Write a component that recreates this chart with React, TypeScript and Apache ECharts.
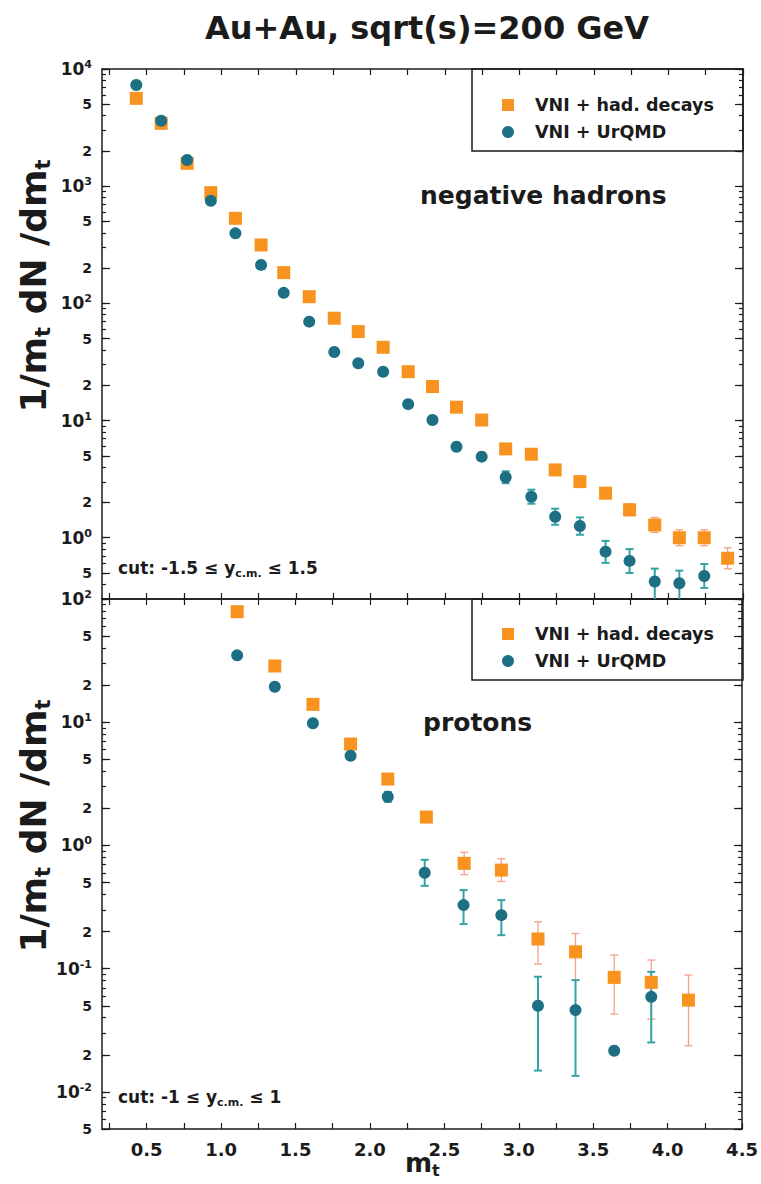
import { useEffect, useRef } from 'react';
import * as echarts from 'echarts';

const FONT = '"DejaVu Sans", Verdana, sans-serif';
const INK = '#1b1b1b';
const ORANGE = '#F7931E';
const TEAL = '#1D6F84';
const ORANGE_ERR = '#F1A189';
const TEAL_ERR = '#33A3A6';

const chartTitle = 'Au+Au, sqrt(s)=200 GeV';
const nameDecays = 'VNI + had. decays';
const nameUrqmd = 'VNI + UrQMD';
const panelHadrons = 'negative hadrons';
const panelProtons = 'protons';

// x axis ticks / labels (m_t)
const xTickValues = [0.25, 0.5, 0.75, 1.0, 1.25, 1.5, 1.75, 2.0, 2.25, 2.5, 2.75, 3.0, 3.25, 3.5, 3.75, 4.0, 4.25, 4.5];
const xLabelValues = [0.5, 1.0, 1.5, 2.0, 2.5, 3.0, 3.5, 4.0, 4.5];

// y axis labels
const hadYLabelValues = [0.5, 1, 2, 5, 10, 20, 50, 100, 200, 500, 1000, 2000, 5000, 10000];
const proYLabelValues = [0.005, 0.01, 0.02, 0.05, 0.1, 0.2, 0.5, 1, 2, 5, 10, 20, 50, 100];
const hadYRange = [0.3, 10000];
const proYRange = [0.005, 100];

// negative hadrons, VNI + had. decays
const hadDecaysMt = [0.43, 0.597, 0.771, 0.93, 1.095, 1.267, 1.419, 1.59, 1.758, 1.919, 2.086, 2.254, 2.417, 2.578, 2.747, 2.908, 3.08, 3.24, 3.406, 3.578, 3.739, 3.908, 4.073, 4.24, 4.397];
const hadDecaysY = [5620, 3440, 1567, 881, 532, 315, 183, 114, 74.7, 57.4, 42.2, 26.1, 19.5, 13.0, 10.1, 5.73, 5.16, 3.79, 3.01, 2.40, 1.73, 1.285, 1.0, 1.0, 0.668];
const hadDecaysLo = [null, null, null, null, null, null, null, null, null, null, null, null, null, null, null, null, 4.87, 3.58, 2.78, 2.17, 1.54, 1.11, 0.855, 0.855, 0.543];
const hadDecaysHi = [null, null, null, null, null, null, null, null, null, null, null, null, null, null, null, null, 5.47, 4.02, 3.26, 2.65, 1.95, 1.49, 1.17, 1.17, 0.82];

// negative hadrons, VNI + UrQMD
const hadUrqmdMt = [0.43, 0.597, 0.771, 0.93, 1.095, 1.267, 1.419, 1.59, 1.758, 1.919, 2.086, 2.254, 2.417, 2.578, 2.747, 2.908, 3.08, 3.24, 3.406, 3.578, 3.739, 3.908, 4.073, 4.24];
const hadUrqmdY = [7300, 3620, 1673, 752, 396, 213, 123, 69.8, 38.5, 30.8, 26.1, 13.8, 10.1, 5.98, 4.92, 3.28, 2.24, 1.51, 1.26, 0.761, 0.634, 0.423, 0.409, 0.472];
const hadUrqmdLo = [null, null, null, null, null, null, null, null, null, null, null, null, null, null, 4.64, 2.92, 1.95, 1.29, 1.06, 0.61, 0.50, 0.29, 0.29, 0.373];
const hadUrqmdHi = [null, null, null, null, null, null, null, null, null, null, null, null, null, null, 5.22, 3.69, 2.57, 1.77, 1.49, 0.94, 0.80, 0.545, 0.524, 0.597];

// protons, VNI + had. decays
const proDecaysMt = [1.108, 1.361, 1.617, 1.87, 2.12, 2.379, 2.633, 2.883, 3.129, 3.381, 3.641, 3.89, 4.14];
const proDecaysY = [78.9, 28.6, 13.96, 6.65, 3.46, 1.70, 0.716, 0.631, 0.174, 0.137, 0.085, 0.0775, 0.0556];
const proDecaysLo = [null, null, null, null, null, 1.55, 0.58, 0.51, 0.109, 0.081, 0.0428, 0.039, 0.0237];
const proDecaysHi = [null, null, null, null, null, 1.87, 0.88, 0.78, 0.24, 0.193, 0.129, 0.1175, 0.0887];

// protons, VNI + UrQMD
const proUrqmdMt = [1.108, 1.361, 1.617, 1.87, 2.12, 2.368, 2.629, 2.883, 3.129, 3.381, 3.641, 3.89];
const proUrqmdY = [34.9, 19.4, 9.8, 5.35, 2.48, 0.60, 0.328, 0.272, 0.050, 0.0461, 0.0216, 0.0591];
const proUrqmdLo = [null, null, null, null, 2.26, 0.47, 0.23, 0.187, 0.0149, 0.0135, null, 0.0252];
const proUrqmdHi = [null, null, null, null, 2.72, 0.765, 0.434, 0.36, 0.086, 0.0807, null, 0.0943];

// every integer multiple of a power of ten inside a range (log minor ticks)
function decadeTicks(lo: number, hi: number): number[] {
  const out: number[] = [];
  for (let e = Math.floor(Math.log10(lo)); e <= Math.ceil(Math.log10(hi)); e++) {
    for (let m = 1; m <= 9; m++) {
      const v = parseFloat((m * Math.pow(10, e)).toPrecision(6));
      if (v >= lo * 0.999 && v <= hi * 1.001) out.push(v);
    }
  }
  return out;
}

function logLabel(v: number): string {
  const e = Math.floor(Math.log10(v) + 1e-6);
  const m = Math.round(v / Math.pow(10, e));
  return m === 1 ? `{p|10}{e|${e}}` : `{m|${m}}`;
}

const pts = (xs: number[], ys: number[]) => xs.map((x, i) => [x, ys[i]]);
const bars = (xs: number[], lo: (number | null)[], hi: (number | null)[]) =>
  xs.map((x, i) => (lo[i] == null ? null : [x, lo[i], hi[i]])).filter((d) => d !== null);

function errorBars(color: string, width: number, cap: number) {
  return (_params: any, api: any) => {
    const x = api.value(0);
    const a = api.coord([x, api.value(1)]);
    const b = api.coord([x, api.value(2)]);
    const style = { stroke: color, lineWidth: width };
    return {
      type: 'group',
      children: [
        { type: 'line', shape: { x1: a[0], y1: a[1], x2: b[0], y2: b[1] }, style },
        { type: 'line', shape: { x1: a[0] - cap, y1: a[1], x2: a[0] + cap, y2: a[1] }, style },
        { type: 'line', shape: { x1: b[0] - cap, y1: b[1], x2: b[0] + cap, y2: b[1] }, style },
      ],
    };
  };
}

const GRID_LEFT = 102;
const GRID_W = 641;
const PANEL_H = 530;
const TOP1 = 69;
const TOP2 = 599;

function buildOption(): any {
  const axisLine = { show: true, onZero: false, lineStyle: { color: INK, width: 1.5 } };
  const tickStyle = { color: INK, width: 1.2 };
  const xAxis = (grid: number, position: string, labels: boolean) => ({
    type: 'value',
    gridIndex: grid,
    position,
    min: 0.2,
    max: 4.5,
    axisLine,
    splitLine: { show: false },
    axisTick: { show: true, inside: true, length: 6, customValues: xTickValues, lineStyle: tickStyle },
    axisLabel: labels
      ? {
          show: true,
          customValues: xLabelValues,
          formatter: (v: number) => v.toFixed(1),
          fontFamily: FONT,
          fontWeight: 'bold',
          fontSize: 18,
          color: INK,
          margin: 11,
        }
      : { show: false },
  });

  const yLabelRich = {
    p: { fontFamily: FONT, fontWeight: 'bold', fontSize: 17, lineHeight: 20, color: INK },
    e: { fontFamily: FONT, fontWeight: 'bold', fontSize: 11, lineHeight: 9, verticalAlign: 'top', color: INK },
    m: { fontFamily: FONT, fontWeight: 'bold', fontSize: 14, lineHeight: 20, color: INK },
  };

  const yAxis = (grid: number, range: number[], position: string, values: number[], len: number, labels: boolean, line: boolean) => ({
    type: 'log',
    logBase: 10,
    gridIndex: grid,
    position,
    min: range[0],
    max: range[1],
    axisLine: line ? axisLine : { show: false },
    splitLine: { show: false },
    minorTick: { show: false },
    axisTick: { show: true, inside: true, length: len, customValues: values, lineStyle: tickStyle },
    axisLabel: labels
      ? { show: true, customValues: values, formatter: logLabel, rich: yLabelRich, margin: 10, color: INK }
      : { show: false },
  });

  const hadMinor = decadeTicks(hadYRange[0], hadYRange[1]);
  const proMinor = decadeTicks(proYRange[0], proYRange[1]);

  const legendBase = {
    data: [nameDecays, nameUrqmd],
    orient: 'vertical',
    left: 497,
    itemWidth: 12,
    itemHeight: 12,
    itemGap: 7,
    selectedMode: false,
    textStyle: { fontFamily: FONT, fontWeight: 'bold', fontSize: 17.5, color: INK, lineHeight: 20, padding: [0, 0, 0, 16] },
  };

  const txt = (x: number, y: number, text: string, size: number, align = 'left', extra: any = {}) => ({
    type: 'text',
    x,
    y,
    ...extra,
    style: {
      text,
      fontFamily: FONT,
      fontWeight: 'bold',
      fontSize: size,
      fill: INK,
      align,
      verticalAlign: 'middle',
      textAlign: align,
      textVerticalAlign: 'middle',
      ...(extra.style || {}),
    },
  });

  const subRich = (size: number, sub: number) => ({
    a: { fontFamily: FONT, fontWeight: 'bold', fontSize: size, lineHeight: size + 4, fill: INK },
    s: { fontFamily: FONT, fontWeight: 'bold', fontSize: sub, lineHeight: Math.round(size * 0.35), verticalAlign: 'bottom', fill: INK },
  });

  const yTitle = '{a|1/m}{s|t}{a| dN /dm}{s|t}';
  const cutHad = '{a|cut: -1.5 ≤ y}{s|c.m.}{a| ≤ 1.5}';
  const cutPro = '{a|cut: -1 ≤ y}{s|c.m.}{a| ≤ 1}';

  const scatterStyle = (color: string) => ({ color, opacity: 1 });

  return {
    animation: false,
    backgroundColor: '#ffffff',
    grid: [
      { left: GRID_LEFT, top: TOP1, width: GRID_W, height: PANEL_H },
      { left: GRID_LEFT, top: TOP2, width: GRID_W, height: PANEL_H },
    ],
    xAxis: [xAxis(0, 'bottom', false), xAxis(0, 'top', false), xAxis(1, 'bottom', true), xAxis(1, 'top', false)],
    yAxis: [
      yAxis(0, hadYRange, 'left', hadYLabelValues, 8, true, true),
      yAxis(0, hadYRange, 'left', hadMinor, 4, false, false),
      yAxis(0, hadYRange, 'right', hadYLabelValues, 8, false, true),
      yAxis(0, hadYRange, 'right', hadMinor, 4, false, false),
      yAxis(1, proYRange, 'left', proYLabelValues, 8, true, true),
      yAxis(1, proYRange, 'left', proMinor, 4, false, false),
      yAxis(1, proYRange, 'right', proYLabelValues, 8, false, true),
      yAxis(1, proYRange, 'right', proMinor, 4, false, false),
    ],
    legend: [
      { ...legendBase, top: 90 },
      { ...legendBase, top: 619 },
    ],
    series: [
      { name: 'decays err (hadrons)', type: 'custom', xAxisIndex: 0, yAxisIndex: 0, clip: true, z: 2, renderItem: errorBars(ORANGE_ERR, 1.3, 4), data: bars(hadDecaysMt, hadDecaysLo, hadDecaysHi), encode: { x: 0, y: [1, 2] } },
      { name: 'urqmd err (hadrons)', type: 'custom', xAxisIndex: 0, yAxisIndex: 0, clip: true, z: 2, renderItem: errorBars(TEAL_ERR, 2, 4), data: bars(hadUrqmdMt, hadUrqmdLo, hadUrqmdHi), encode: { x: 0, y: [1, 2] } },
      { name: nameDecays, type: 'scatter', xAxisIndex: 0, yAxisIndex: 0, symbol: 'rect', symbolSize: 13, z: 3, itemStyle: scatterStyle(ORANGE), data: pts(hadDecaysMt, hadDecaysY) },
      { name: nameUrqmd, type: 'scatter', xAxisIndex: 0, yAxisIndex: 0, symbol: 'circle', symbolSize: 12, z: 4, itemStyle: scatterStyle(TEAL), data: pts(hadUrqmdMt, hadUrqmdY) },
      { name: 'decays err (protons)', type: 'custom', xAxisIndex: 2, yAxisIndex: 4, clip: true, z: 2, renderItem: errorBars(ORANGE_ERR, 1.3, 4), data: bars(proDecaysMt, proDecaysLo, proDecaysHi), encode: { x: 0, y: [1, 2] } },
      { name: 'urqmd err (protons)', type: 'custom', xAxisIndex: 2, yAxisIndex: 4, clip: true, z: 2, renderItem: errorBars(TEAL_ERR, 2, 4), data: bars(proUrqmdMt, proUrqmdLo, proUrqmdHi), encode: { x: 0, y: [1, 2] } },
      { name: nameDecays, type: 'scatter', xAxisIndex: 2, yAxisIndex: 4, symbol: 'rect', symbolSize: 13, z: 3, itemStyle: scatterStyle(ORANGE), data: pts(proDecaysMt, proDecaysY) },
      { name: nameUrqmd, type: 'scatter', xAxisIndex: 2, yAxisIndex: 4, symbol: 'circle', symbolSize: 12, z: 4, itemStyle: scatterStyle(TEAL), data: pts(proUrqmdMt, proUrqmdY) },
    ],
    graphic: [
      txt(427, 28, chartTitle, 32, 'center'),
      { type: 'rect', shape: { x: 472, y: TOP1, width: 271, height: 82 }, style: { fill: 'none', stroke: INK, lineWidth: 1.5 } },
      { type: 'rect', shape: { x: 472, y: TOP2, width: 271, height: 81 }, style: { fill: 'none', stroke: INK, lineWidth: 1.5 } },
      txt(420, 195, panelHadrons, 25),
      txt(423, 722, panelProtons, 25),
      txt(118, 568, cutHad, 17, 'left', { style: { rich: subRich(17, 11) } }),
      txt(118, 1097, cutPro, 17, 'left', { style: { rich: subRich(17, 11) } }),
      txt(405, 1163, '{a|m}{s|t}', 26, 'left', { style: { rich: subRich(26, 16) } }),
      txt(33, 286, yTitle, 36, 'center', { rotation: Math.PI / 2, style: { rich: subRich(36, 21) } }),
      txt(33, 826, yTitle, 36, 'center', { rotation: Math.PI / 2, style: { rich: subRich(36, 21) } }),
    ],
  };
}

export default function App() {
  const ref = useRef<HTMLDivElement>(null);
  useEffect(() => {
    if (!ref.current) return;
    const chart = echarts.init(ref.current, undefined, { renderer: 'svg' });
    chart.setOption(buildOption());
    return () => chart.dispose();
  }, []);
  return (
    <div
      ref={ref}
      style={{ position: 'fixed', left: 0, top: 0, width: 761, height: 1184, background: '#ffffff' }}
    />
  );
}
